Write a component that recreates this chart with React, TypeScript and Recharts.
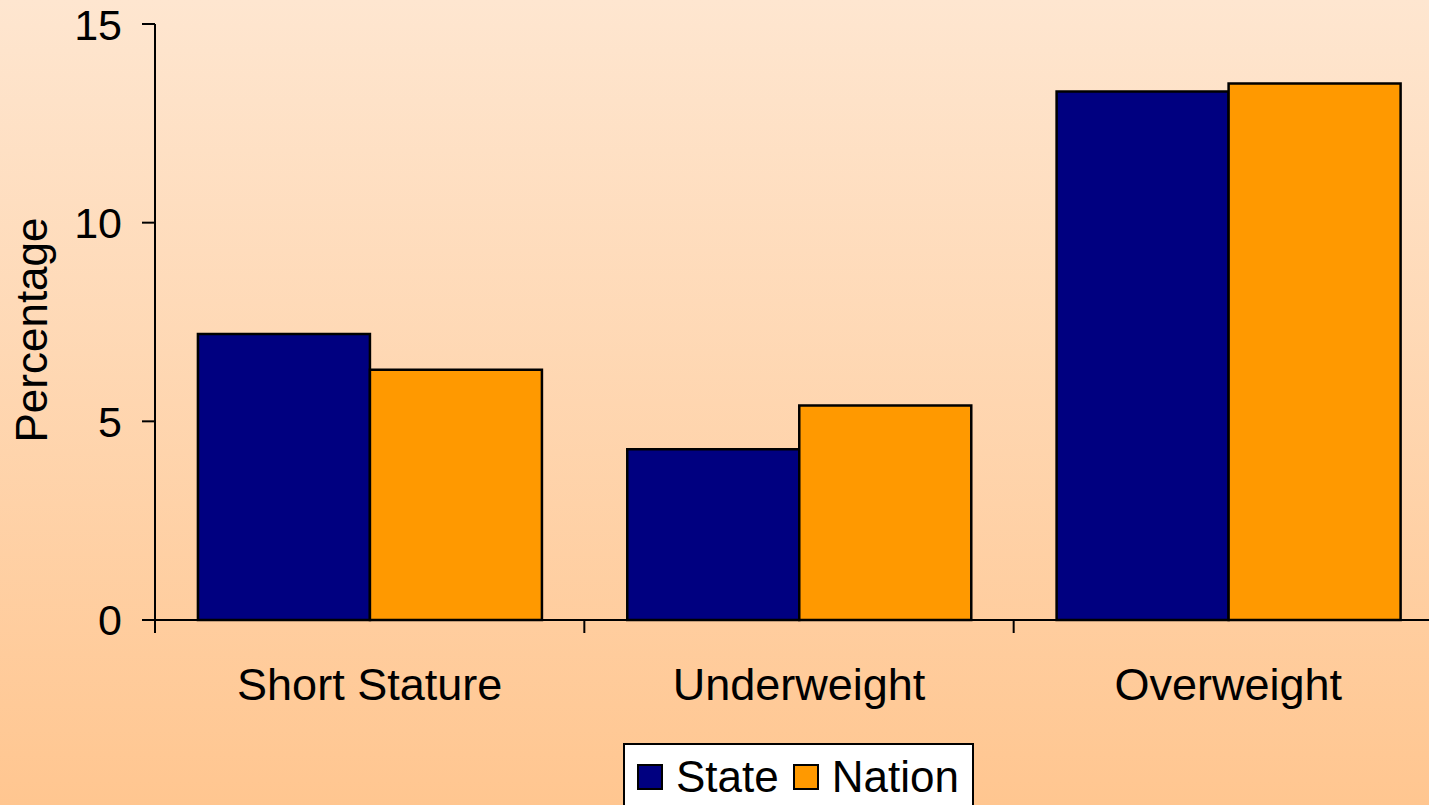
import { Bar, BarChart, Label, XAxis, YAxis } from "recharts";

const categories = ["Short Stature", "Underweight", "Overweight"];
const stateValues = [7.2, 4.3, 13.3];
const nationValues = [6.3, 5.4, 13.5];
const yTicks = [0, 5, 10, 15];

const seriesList = [
  { key: "state", name: "State", color: "#000080" },
  { key: "nation", name: "Nation", color: "#FF9900" },
];

const data = categories.map((c, i) => ({
  category: c,
  state: stateValues[i],
  nation: nationValues[i],
}));

const FONT = '"Liberation Sans", Arial, sans-serif';
const CHART_W = 1460;
const CHART_H = 805;
const MARGIN = { top: 24, right: 17, left: 0, bottom: 0 };
const Y_W = 155;
const BAND = (CHART_W - MARGIN.left - MARGIN.right - Y_W) / categories.length;

function CategoryTick(props: any) {
  const { x, y, payload } = props;
  const edge = x - BAND / 2;
  return (
    <g>
      <line x1={edge} y1={y} x2={edge} y2={y + 13} stroke="#000" strokeWidth={2} />
      <text x={x} y={y + 80} textAnchor="middle" fontSize={45} fill="#000" fontFamily={FONT}>
        {payload.value}
      </text>
    </g>
  );
}

function YLabel(props: any) {
  const vb = props.viewBox;
  const cx = 31;
  const cy = vb.y + vb.height / 2 + 8;
  return (
    <text
      x={cx}
      y={cy}
      transform={`rotate(-90, ${cx}, ${cy})`}
      textAnchor="middle"
      dominantBaseline="central"
      fontSize={44}
      fill="#000"
      fontFamily={FONT}
    >
      Percentage
    </text>
  );
}

export default function App() {
  return (
    <div
      style={{
        position: "absolute",
        left: 0,
        top: 0,
        width: 1429,
        height: 805,
        overflow: "hidden",
        background: "linear-gradient(to bottom, #FEE6D0 0%, #FFC690 100%)",
        fontFamily: FONT,
      }}
    >
      <BarChart
        width={CHART_W}
        height={CHART_H}
        data={data}
        margin={MARGIN}
        barCategoryGap="10%"
        barGap={0}
      >
        <XAxis
          dataKey="category"
          height={CHART_H - 620}
          axisLine={{ stroke: "#000", strokeWidth: 2 }}
          tickLine={false}
          tickSize={0}
          tickMargin={0}
          tick={<CategoryTick />}
          interval={0}
        />
        <YAxis
          width={Y_W}
          domain={[0, 15]}
          ticks={yTicks}
          axisLine={{ stroke: "#000", strokeWidth: 2 }}
          tickLine={{ stroke: "#000", strokeWidth: 2 }}
          tickSize={13}
          tickMargin={20}
          tick={{ fontSize: 43, fill: "#000", fontFamily: FONT }}
        >
          <Label content={<YLabel />} />
        </YAxis>
        {seriesList.map((s) => (
          <Bar
            key={s.key}
            dataKey={s.key}
            name={s.name}
            fill={s.color}
            stroke="#000"
            strokeWidth={2.5}
            isAnimationActive={false}
          />
        ))}
      </BarChart>
      <div
        style={{
          position: "absolute",
          left: 623,
          top: 743,
          width: 351,
          height: 80,
          background: "#fff",
          border: "2px solid #000",
          display: "flex",
          alignItems: "flex-start",
          paddingTop: 8,
          paddingLeft: 12,
          boxSizing: "border-box",
        }}
      >
        {seriesList.map((s) => (
          <div key={s.key} style={{ display: "flex", alignItems: "center", marginRight: 14 }}>
            <span
              style={{
                display: "inline-block",
                width: 22,
                height: 22,
                background: s.color,
                border: "2px solid #000",
                marginRight: 13,
              }}
            />
            <span style={{ fontSize: 44, lineHeight: "47px", color: "#000" }}>{s.name}</span>
          </div>
        ))}
      </div>
    </div>
  );
}
